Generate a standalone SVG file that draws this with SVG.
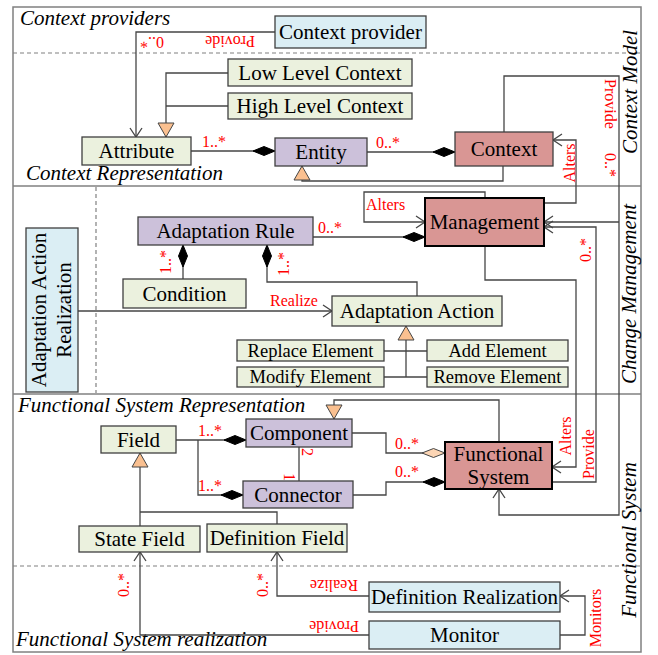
<svg xmlns="http://www.w3.org/2000/svg" width="658" height="655" viewBox="0 0 658 655">
<style>
.box{stroke:#3f3f3f;stroke-width:1.3}
.blue{fill:#dbeef4}
.green{fill:#ebf1de}
.purple{fill:#ccc1da}
.red{fill:#d99694}
.thick{stroke:#000;stroke-width:2}
.t{font-family:"Liberation Serif","Times New Roman",serif;font-size:21px;fill:#000;text-anchor:middle}
.ts{font-size:18.5px}
.lbl{font-family:"Liberation Serif","Times New Roman",serif;font-size:16px;fill:#ff0000}
.m{text-anchor:middle}
.sec{font-family:"Liberation Serif","Times New Roman",serif;font-style:italic;font-size:21px;fill:#000}
.c{fill:none;stroke:#454545;stroke-width:1.3}
.frame{fill:none;stroke:#808080;stroke-width:1.5}
.dash{fill:none;stroke:#808080;stroke-width:1.2;stroke-dasharray:4,3}
</style>
<defs>
<marker id="arrow" markerUnits="userSpaceOnUse" markerWidth="12" markerHeight="14" refX="10" refY="7" orient="auto">
<path d="M1,1 L10,7 L1,13" fill="none" stroke="#454545" stroke-width="1.3"/>
</marker>
<marker id="dia" markerUnits="userSpaceOnUse" markerWidth="24" markerHeight="12" refX="23" refY="6" orient="auto">
<path d="M1,6 L12,1.5 L23,6 L12,10.5 Z" fill="#000" stroke="#000" stroke-width="1"/>
</marker>
<marker id="hdia" markerUnits="userSpaceOnUse" markerWidth="26" markerHeight="12" refX="24" refY="6" orient="auto">
<path d="M1,6 L12.5,1.5 L24,6 L12.5,10.5 Z" fill="#fcd5b4" stroke="#454545" stroke-width="1"/>
</marker>
<marker id="tri" markerUnits="userSpaceOnUse" markerWidth="16" markerHeight="18" refX="15" refY="9" orient="auto">
<path d="M1,1 L15,9 L1,17 Z" fill="#fac090" stroke="#454545" stroke-width="1"/>
</marker>
</defs>

<g id="frame">
<rect class="frame" x="13" y="7" width="628" height="645"/>
<line class="dash" x1="13" y1="53" x2="641" y2="53"/>
<line class="frame" x1="13" y1="186" x2="641" y2="186"/>
<line class="frame" x1="13" y1="394" x2="641" y2="394"/>
<line class="dash" x1="13" y1="566" x2="641" y2="566"/>
<line class="dash" x1="96" y1="187" x2="96" y2="393"/>
<text class="sec" x="20" y="25">Context providers</text>
<text class="sec" x="26" y="180">Context Representation</text>
<text class="sec" x="18" y="412">Functional System Representation</text>
<text class="sec" x="16" y="646">Functional System realization</text>
<text class="sec m" transform="translate(637,92) rotate(-90)">Context Model</text>
<text class="sec m" transform="translate(636,294) rotate(-90)">Change Management</text>
<text class="sec m" transform="translate(636,540) rotate(-90)">Functional System</text>
</g>

<g id="connectors">
<path class="c" d="M275,32 H136 V137" marker-end="url(#arrow)"/>
<path class="c" d="M228,73 H166 V137" marker-end="url(#tri)"/>
<path class="c" d="M228,106 H166"/>
<path class="c" d="M191,151 H275" marker-end="url(#dia)"/>
<path class="c" d="M367,152 H455" marker-end="url(#dia)"/>
<path class="c" d="M503,166 V181 H302 V166" marker-end="url(#tri)"/>
<path class="c" d="M504,132 V76 H619 V515 H499 V489" marker-end="url(#arrow)"/>
<path class="c" d="M619,222 H544" marker-end="url(#arrow)"/>
<path class="c" d="M544,203 H576 V140 H553" marker-end="url(#arrow)"/>
<path class="c" d="M485,198 V192 H364 V222 H425" marker-end="url(#arrow)"/>
<path class="c" d="M313,237 H425" marker-end="url(#dia)"/>
<path class="c" d="M183,279 V245" marker-end="url(#dia)"/>
<path class="c" d="M417,296 V282 H267 V245" marker-end="url(#dia)"/>
<path class="c" d="M78,311 H332" marker-end="url(#arrow)"/>
<path class="c" d="M485,246 V280 H576 V467 H552" marker-end="url(#arrow)"/>
<path class="c" d="M552,482 H596 V227 H544" marker-end="url(#arrow)"/>
<path class="c" d="M406,377 V326" marker-end="url(#tri)"/>
<path class="c" d="M384,351 H427"/>
<path class="c" d="M384,377 H427"/>
<path class="c" d="M499,442 V400 H334 V419" marker-end="url(#tri)"/>
<path class="c" d="M176,440 H246" marker-end="url(#dia)"/>
<path class="c" d="M198,440 V495 H243" marker-end="url(#dia)"/>
<path class="c" d="M299,447 V481"/>
<path class="c" d="M352,433 H386 V453 H445" marker-end="url(#hdia)"/>
<path class="c" d="M353,495 H386 V482 H445" marker-end="url(#dia)"/>
<path class="c" d="M140,526 V453" marker-end="url(#tri)"/>
<path class="c" d="M140,512 H277 V524"/>
<path class="c" d="M369,635 H140 V552" marker-end="url(#arrow)"/>
<path class="c" d="M369,596 H277 V552" marker-end="url(#arrow)"/>
<path class="c" d="M560,635 H585 V596 H560" marker-end="url(#arrow)"/>

<text class="lbl m" transform="translate(230,36) rotate(180)">Provide</text>
<text class="lbl m" transform="translate(152,37) rotate(180)">0..*</text>
<text class="lbl" x="202" y="147">1..*</text>
<text class="lbl" x="376" y="148">0..*</text>
<text class="lbl m" transform="translate(605,104) rotate(90)">Provide</text>
<text class="lbl m" transform="translate(605,165) rotate(90)">0..*</text>
<text class="lbl m" transform="translate(575,163) rotate(-90)">Alters</text>
<text class="lbl" x="366" y="210">Alters</text>
<text class="lbl" x="318" y="233">0..*</text>
<text class="lbl m" transform="translate(171,262) rotate(-90)">1..*</text>
<text class="lbl m" transform="translate(289,264) rotate(-90)">1..*</text>
<text class="lbl" x="270" y="306">Realize</text>
<text class="lbl m" transform="translate(571,436) rotate(-90)">Alters</text>
<text class="lbl m" transform="translate(594,454) rotate(-90)">Provide</text>
<text class="lbl m" transform="translate(591,250) rotate(-90)">0..*</text>
<text class="lbl" x="198" y="436">1..*</text>
<text class="lbl" x="198" y="491">1..*</text>
<text class="lbl m" transform="translate(302,452) rotate(90)">2</text>
<text class="lbl m" transform="translate(284,477) rotate(90)">1</text>
<text class="lbl" x="395" y="449">0..*</text>
<text class="lbl" x="395" y="477">0..*</text>
<text class="lbl m" transform="translate(129,585) rotate(-90)">0..*</text>
<text class="lbl m" transform="translate(268,585) rotate(-90)">0..*</text>
<text class="lbl m" transform="translate(334,580) rotate(180)">Realize</text>
<text class="lbl m" transform="translate(334,621) rotate(180)">Provide</text>
<text class="lbl m" transform="translate(601,618) rotate(-90)">Monitors</text>
</g>

<g id="context-provider"><rect class="box blue" x="275" y="16" width="151" height="32"/><text class="t" x="350.5" y="39">Context provider</text></g>
<g id="low-level-context"><rect class="box green" x="228" y="59" width="184" height="27"/><text class="t" x="320" y="80">Low Level Context</text></g>
<g id="high-level-context"><rect class="box green" x="228" y="93" width="184" height="26"/><text class="t" x="320" y="113">High Level Context</text></g>
<g id="attribute"><rect class="box green" x="82" y="137" width="109" height="28"/><text class="t" x="136.5" y="158">Attribute</text></g>
<g id="entity"><rect class="box purple" x="275" y="138" width="92" height="28"/><text class="t" x="321" y="159">Entity</text></g>
<g id="context"><rect class="box red" x="455" y="132" width="98" height="34"/><text class="t" x="504" y="156">Context</text></g>
<g id="adaptation-rule"><rect class="box purple" x="138" y="217" width="175" height="28"/><text class="t" x="225.5" y="238">Adaptation Rule</text></g>
<g id="condition"><rect class="box green" x="123" y="279" width="123" height="29"/><text class="t" x="184.5" y="300.5">Condition</text></g>
<g id="adaptation-action-realization"><rect class="box blue" x="26" y="228" width="52" height="164"/><text class="t" transform="translate(46,310) rotate(-90)">Adaptation Action</text><text class="t" transform="translate(71,310) rotate(-90)">Realization</text></g>
<g id="management"><rect class="box red thick" x="425" y="198" width="119" height="48"/><text class="t" x="484.5" y="229">Management</text></g>
<g id="adaptation-action"><rect class="box green" x="332" y="296" width="170" height="30"/><text class="t" x="417" y="318">Adaptation Action</text></g>
<g id="replace-element"><rect class="box green" x="237" y="340" width="147" height="21"/><text class="t ts" x="310.5" y="357">Replace Element</text></g>
<g id="modify-element"><rect class="box green" x="237" y="367" width="147" height="20"/><text class="t ts" x="310.5" y="383">Modify Element</text></g>
<g id="add-element"><rect class="box green" x="427" y="340" width="141" height="21"/><text class="t ts" x="497.5" y="357">Add Element</text></g>
<g id="remove-element"><rect class="box green" x="427" y="367" width="141" height="20"/><text class="t ts" x="497.5" y="383">Remove Element</text></g>
<g id="field"><rect class="box green" x="101" y="426" width="75" height="27"/><text class="t" x="138.5" y="446.5">Field</text></g>
<g id="component"><rect class="box purple" x="246" y="419" width="106" height="28"/><text class="t" x="299" y="440">Component</text></g>
<g id="connector"><rect class="box purple" x="243" y="481" width="110" height="27"/><text class="t" x="298" y="501.5">Connector</text></g>
<g id="functional-system"><rect class="box red thick" x="445" y="442" width="107" height="47"/><text class="t" x="498.5" y="461">Functional</text><text class="t" x="498.5" y="484">System</text></g>
<g id="state-field"><rect class="box green" x="79" y="526" width="121" height="26"/><text class="t" x="139.5" y="546">State Field</text></g>
<g id="definition-field"><rect class="box green" x="207" y="524" width="140" height="28"/><text class="t" x="277" y="545">Definition Field</text></g>
<g id="definition-realization"><rect class="box blue" x="369" y="582" width="191" height="30"/><text class="t" x="464.5" y="604">Definition Realization</text></g>
<g id="monitor"><rect class="box blue" x="369" y="621" width="191" height="28"/><text class="t" x="464.5" y="642">Monitor</text></g>
</svg>
